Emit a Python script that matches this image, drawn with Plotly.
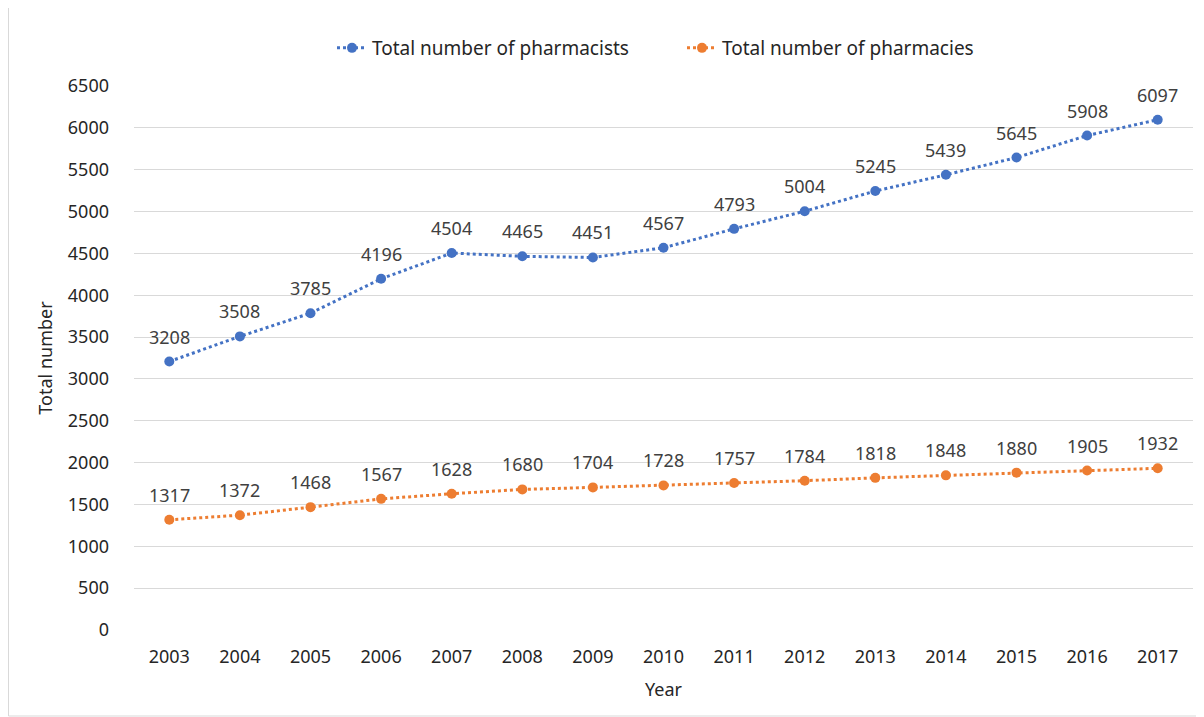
import plotly.graph_objects as go

years = ["2003", "2004", "2005", "2006", "2007", "2008", "2009", "2010",
         "2011", "2012", "2013", "2014", "2015", "2016", "2017"]
pharmacists = [3208, 3508, 3785, 4196, 4504, 4465, 4451, 4567, 4793, 5004,
               5245, 5439, 5645, 5908, 6097]
pharmacies = [1317, 1372, 1468, 1567, 1628, 1680, 1704, 1728, 1757, 1784,
              1818, 1848, 1880, 1905, 1932]
y_ticks = list(range(0, 6501, 500))

FONT = "Noto Sans, Liberation Sans, sans-serif"
xs = list(range(len(years)))

# page body has an 8px margin; work in reference pixel coords shifted by 8
OFF = 8
W, H = 1204 - OFF, 717 - OFF
L, T = 134 - OFF, 86 - OFF
R = W - (1193 - OFF)
B = H - (630 - OFF)
pw, ph = W - L - R, H - T - B

def px(x):
    return (x - OFF - L) / pw

def py(y):
    return (H - B - (y - OFF)) / ph

fig = go.Figure()
annotations = []
for name, vals, col in [("Total number of pharmacists", pharmacists, "#4472C4"),
                        ("Total number of pharmacies", pharmacies, "#ED7D31")]:
    fig.add_trace(go.Scatter(
        x=xs, y=vals, name=name, mode="lines+markers",
        line=dict(color=col, width=3, dash="dot"),
        marker=dict(color=col, size=10),
    ))
    for x, v in zip(xs, vals):
        annotations.append(dict(x=x, y=v, text=str(v), showarrow=False,
                                xanchor="center", yanchor="middle", yshift=25,
                                font=dict(size=18, color="#404040", family=FONT)))

fig.update_layout(
    width=W, height=H,
    margin=dict(l=L, r=R, t=T, b=B, autoexpand=False),
    paper_bgcolor="white", plot_bgcolor="white",
    font=dict(family=FONT, size=18, color="#262626"),
    legend=dict(orientation="h", x=px(332), xanchor="left", y=py(48), yanchor="middle",
                font=dict(size=19, color="#262626"),
                entrywidth=305, entrywidthmode="pixels",
                bgcolor="rgba(0,0,0,0)"),
    xaxis=dict(range=[-0.5, len(years) - 0.5], tickvals=xs, ticktext=years,
               showgrid=False, zeroline=False, showline=False, ticks="",
               automargin=False, ticklabelstandoff=14,
               title=dict(text="Year", font=dict(size=18, color="#262626"), standoff=16)),
    yaxis=dict(range=[0, 6500], tickvals=y_ticks, showgrid=True, gridcolor="#D9D9D9",
               gridwidth=1, zeroline=False, ticks="", ticklabelstandoff=24,
               automargin=False,
               title=dict(text="Total number", font=dict(size=18, color="#262626"), standoff=10)),
    annotations=annotations,
    shapes=[dict(type="rect", xref="paper", yref="paper",
                 x0=px(8.5), x1=px(1203), y0=py(716), y1=py(0),
                 line=dict(color="#D9D9D9", width=1))],
    showlegend=True,
)

fig.write_html("out.html")
